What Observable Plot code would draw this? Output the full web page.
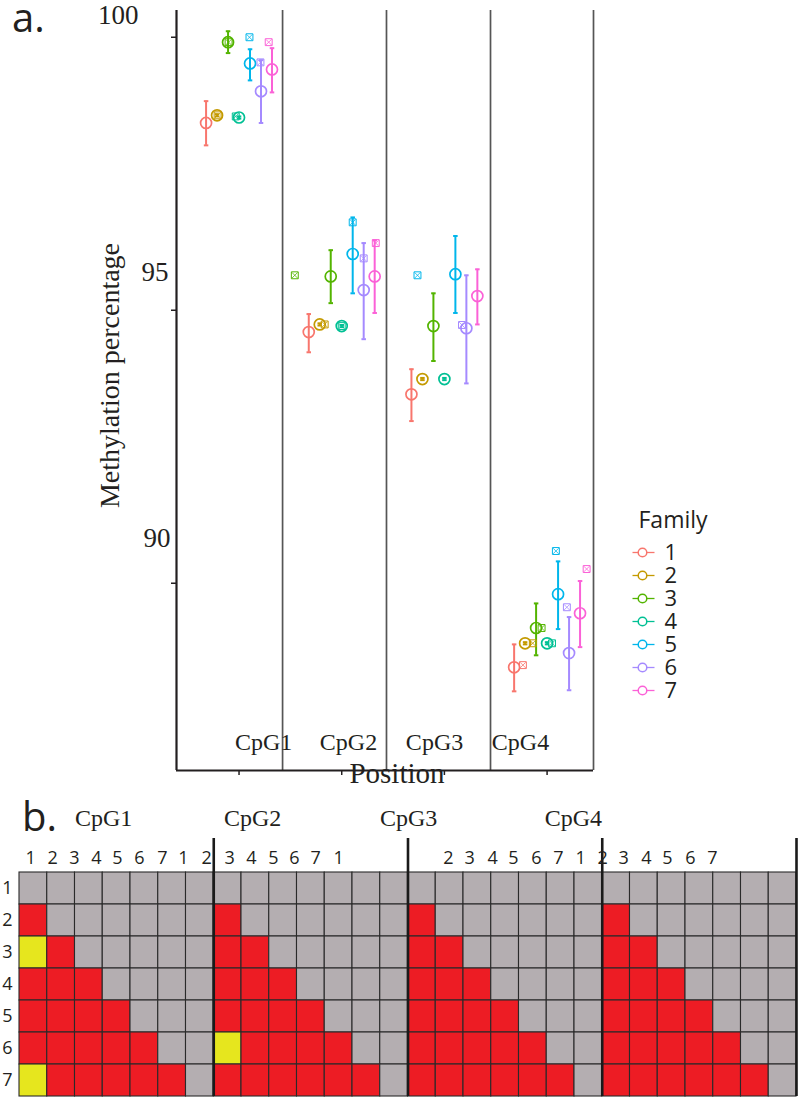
<!DOCTYPE html>
<html><head><meta charset="utf-8">
<script src="https://cdn.jsdelivr.net/npm/d3@7"></script>
<script src="https://cdn.jsdelivr.net/npm/@observablehq/plot@0.6"></script>
<style>
body{margin:0;background:#fff;}
#root{position:relative;width:800px;height:1097px;overflow:hidden;background:#fff;}
#root > *{position:absolute;}
.letter{font-family:"Open Sans",sans-serif;font-size:40px;line-height:30px;color:#231f20;}
</style></head><body><div id="root"></div>
<script>
// ---------- data: panel a ----------
const families = [1, 2, 3, 4, 5, 6, 7];
const familyColors = ["#F8766D", "#C49A00", "#53B400", "#00C094", "#00B6EB", "#A58AFF", "#FB61D7"];
const cpgs = ["CpG1", "CpG2", "CpG3", "CpG4"];

const meanCpG1 = [98.43, 98.57, 99.91, 98.53, 99.52, 99.01, 99.41];
const lowCpG1  = [98.02, 98.55, 99.71, 98.51, 99.21, 98.43, 98.99];
const highCpG1 = [98.83, 98.59, 100.11, 98.55, 99.78, 99.58, 99.80];

const meanCpG2 = [94.60, 94.74, 95.62, 94.71, 96.03, 95.37, 95.62];
const lowCpG2  = [94.23, 94.72, 95.13, 94.69, 95.31, 94.47, 94.95];
const highCpG2 = [94.93, 94.76, 96.10, 94.73, 96.70, 96.23, 96.28];

const meanCpG3 = [93.46, 93.74, 94.71, 93.74, 95.66, 94.67, 95.26];
const lowCpG3  = [92.97, 93.72, 94.07, 93.72, 94.95, 93.66, 94.74];
const highCpG3 = [93.92, 93.76, 95.31, 93.76, 96.36, 95.64, 95.75];

const meanCpG4 = [88.46, 88.90, 89.18, 88.90, 89.80, 88.72, 89.45];
const lowCpG4  = [88.02, 88.88, 88.68, 88.88, 89.16, 88.04, 88.83];
const highCpG4 = [88.88, 88.92, 89.63, 88.92, 90.40, 89.38, 90.04];

// secondary (crossed-square) markers: CpG index, family, dodge slot, value
const squareCpG    = [1, 1, 1, 1, 1, 1, 2, 2, 2, 2, 2, 2, 3, 3, 4, 4, 4, 4, 4, 4, 4];
const squareFamily = [2, 3, 4, 5, 6, 7, 2, 3, 4, 5, 6, 7, 5, 6, 1, 2, 3, 4, 5, 6, 7];
const squareSlot   = [2.05, 3.05, 3.7, 4.95, 5.95, 6.7, 2.45, -0.27, 4, 5, 6, 7.1, 1.55, 5.6, 1.8, 2.7, 3.5, 4.45, 4.8, 5.8, 7.6];
const squareValue  = [98.57, 99.91, 98.55, 100.0, 99.54, 99.91, 94.74, 95.64, 94.71, 96.61, 95.95, 96.23, 95.64, 94.73, 88.50, 88.90, 89.18, 88.90, 90.59, 89.56, 90.26];

const yTicks = [100, 95, 90];
const yTickLabels = ["100", "95", "90"];

// ---------- data: panel b ----------
const rowLabels = ["1", "2", "3", "4", "5", "6", "7"];
const block1 = ["ggggggg", "rgggggg", "yrggggg", "rrrgggg", "rrrrggg", "rrrrrgg", "yrrrrrg"];
const block2 = ["ggggggg", "rgggggg", "rrggggg", "rrrgggg", "rrrrggg", "yrrrrgg", "rrrrrrg"];
const block3 = ["ggggggg", "rgggggg", "rrggggg", "rrrgggg", "rrrrggg", "rrrrrgg", "rrrrrrg"];
const block4 = ["ggggggg", "rgggggg", "rrggggg", "rrrgggg", "rrrrggg", "rrrrrgg", "rrrrrrg"];
const colLabelText = ["1","2","3","4","5","6","7","1","2","3","4","5","6","7","1",
                      "2","3","4","5","6","7","1","2","3","4","5","6","7"];
const colLabelPos = [0.40,1.19,1.98,2.77,3.53,4.32,5.15,5.91,6.74,7.57,8.36,9.15,9.91,10.67,11.50,
                     15.46,16.22,17.05,17.80,18.63,19.42,20.22,21.01,21.77,22.59,23.35,24.18,24.97];
const blockLabelPos = [3.03, 8.40, 14.02, 19.96];

// ---------- build tables ----------
const means = [meanCpG1, meanCpG2, meanCpG3, meanCpG4];
const lows = [lowCpG1, lowCpG2, lowCpG3, lowCpG4];
const highs = [highCpG1, highCpG2, highCpG3, highCpG4];
const summary = [];
cpgs.forEach((c, ci) => families.forEach((f, fi) => summary.push({
  cpg: ci + 1, family: f, slot: f, mean: means[ci][fi], lo: lows[ci][fi], hi: highs[ci][fi]
})));
const squares = squareCpG.map((c, i) => ({cpg: c, family: squareFamily[i], slot: squareSlot[i], value: squareValue[i]}));

const dodge = 0.107;
const xPos = d => d.cpg + (d.slot - 4) * dodge;
const capHalf = 0.022;
const xDomain = [0.391, 4.452];
const yDomain = [86.57, 100.49];
const separators = [1.424, 2.436, 3.449, 4.452];
const cpgLabelPos = [1.24, 2.066, 2.904, 3.741];
const serif = "Liberation Serif, Times New Roman, serif";
const sans = "Open Sans, sans-serif";
const ink = "#231f20";

const root = document.getElementById("root");

const plotA = Plot.plot({
  width: 800, height: 790,
  marginLeft: 176, marginRight: 207, marginTop: 10, marginBottom: 20,
  style: {background: "transparent", overflow: "visible"},
  x: {domain: xDomain, axis: null},
  y: {domain: yDomain, axis: null},
  color: {domain: families, range: familyColors},
  marks: [
    Plot.ruleX(separators, {x: d => d, y1: yDomain[0], y2: yDomain[1], stroke: "#555", strokeWidth: 1.7}),
    Plot.ruleX([xDomain[0]], {y1: yDomain[0], y2: yDomain[1], stroke: ink, strokeWidth: 2.2}),
    Plot.ruleY([yDomain[0]], {x1: xDomain[0], x2: xDomain[1], stroke: ink, strokeWidth: 2.2}),
    Plot.axisY({ticks: yTicks, tickSize: 5, tickFormat: () => "", label: null, stroke: ink, strokeWidth: 1.5}),
    Plot.axisX({ticks: [1, 2, 3, 4], tickSize: 5, tickFormat: () => "", label: null, stroke: ink, strokeWidth: 1.5}),
    ...yTicks.map((v, i) => Plot.text([v], {
      x: xDomain[0], y: d => d, text: () => yTickLabels[i],
      dx: [-38, -8, -6][i], dy: [-22, -38, -45][i],
      textAnchor: "end", fontSize: 27, fontFamily: serif, fill: ink
    })),
    Plot.ruleX(summary, {x: xPos, y1: "lo", y2: "hi", stroke: "family", strokeWidth: 2}),
    Plot.link(summary, {x1: d => xPos(d) - capHalf, x2: d => xPos(d) + capHalf, y1: "hi", y2: "hi", stroke: "family", strokeWidth: 2}),
    Plot.link(summary, {x1: d => xPos(d) - capHalf, x2: d => xPos(d) + capHalf, y1: "lo", y2: "lo", stroke: "family", strokeWidth: 2}),
    Plot.dot(summary, {x: xPos, y: "mean", r: 5.5, stroke: "family", strokeWidth: 1.7, fill: "none"}),
    Plot.dot(squares, {x: xPos, y: "value", symbol: "square", r: 3.9, stroke: "family", strokeWidth: 1, fill: "none"}),
    Plot.dot(squares, {x: xPos, y: "value", symbol: "times", r: 2.7, stroke: "family", strokeWidth: 0.8}),
    Plot.text(cpgs, {x: (d, i) => cpgLabelPos[i], text: d => d, frameAnchor: "bottom", lineAnchor: "middle", dy: -28,
      fontSize: 24, fontFamily: serif, fill: ink}),
    Plot.text(["Position"], {frameAnchor: "bottom", lineAnchor: "middle", dx: 12, dy: 3, fontSize: 29, fontFamily: serif, fill: ink}),
    Plot.text(["Methylation percentage"], {frameAnchor: "left", textAnchor: "middle", lineAnchor: "middle", rotate: -90, dx: -66, dy: -15,
      fontSize: 28, fontFamily: serif, fill: ink})
  ]
});
plotA.style.left = "0px"; plotA.style.top = "0px";
root.appendChild(plotA);

// legend
const legend = Plot.plot({
  width: 110, height: 210, margin: 0,
  style: {background: "transparent", overflow: "visible"},
  x: {domain: [0, 110], range: [0, 110], axis: null},
  y: {type: "point", domain: families, range: [50, 192], padding: 0, axis: null},
  color: {domain: families, range: familyColors},
  marks: [
    Plot.text(["Family"], {frameAnchor: "top-left", dx: 18, dy: 20, textAnchor: "start", lineAnchor: "middle",
      fontSize: 23, fontFamily: sans, fill: ink}),
    Plot.link(families, {x1: 12, x2: 34, y1: d => d, y2: d => d, stroke: d => d, strokeWidth: 1.3}),
    Plot.dot(families, {x: 22, y: d => d, r: 4.3, stroke: d => d, strokeWidth: 1.5, fill: "white"}),
    Plot.text(families, {x: 44, y: d => d, text: d => String(d), textAnchor: "start",
      fontSize: 22, fontFamily: sans, fill: ink})
  ]
});
legend.style.left = "620px"; legend.style.top = "500px";
root.appendChild(legend);

// panel b
const blocks = [block1, block2, block3, block4];
const cells = [];
blocks.forEach((b, bi) => b.forEach((rowStr, ri) => rowStr.split("").forEach((code, ci) => cells.push({
  col: bi * 7 + ci, row: ri, code
}))));
const cellFill = {g: "#b4aeb1", r: "#ed1c24", y: "#e6e61e"};

const plotB = Plot.plot({
  width: 800, height: 307,
  marginLeft: 19, marginRight: 4, marginTop: 82, marginBottom: 1,
  style: {background: "transparent", overflow: "visible"},
  x: {domain: [0, 28], axis: null},
  y: {domain: [0, 7], reverse: true, axis: null},
  marks: [
    Plot.rect(cells, {x1: "col", x2: d => d.col + 1, y1: "row", y2: d => d.row + 1,
      fill: d => cellFill[d.code], stroke: "#2a2a2a", strokeWidth: 1.1}),
    Plot.ruleX([7, 14, 21, 28], {x: d => d, y1: -1.06, y2: 7, stroke: "#1a1a1a", strokeWidth: 2.6}),
    Plot.text(colLabelText, {x: (d, i) => colLabelPos[i], text: d => d, frameAnchor: "top", lineAnchor: "middle", dy: -14,
      fontSize: 18, fontFamily: sans, fill: ink}),
    Plot.text(rowLabels, {y: (d, i) => i + 0.5, text: d => d, frameAnchor: "left", textAnchor: "middle", dx: -12,
      fontSize: 18, fontFamily: sans, fill: ink}),
    Plot.text(cpgs, {x: (d, i) => blockLabelPos[i], text: d => d, frameAnchor: "top", lineAnchor: "middle", dy: -54,
      fontSize: 24, fontFamily: serif, fill: ink})
  ]
});
plotB.style.left = "0px"; plotB.style.top = "790px";
root.appendChild(plotB);

// panel letters
const la = document.createElement("div");
la.className = "letter"; la.textContent = "a."; la.style.left = "12px"; la.style.top = "2px";
root.appendChild(la);
const lb = document.createElement("div");
lb.className = "letter"; lb.textContent = "b."; lb.style.left = "22px"; lb.style.top = "801px";
root.appendChild(lb);
</script>
</body></html>
